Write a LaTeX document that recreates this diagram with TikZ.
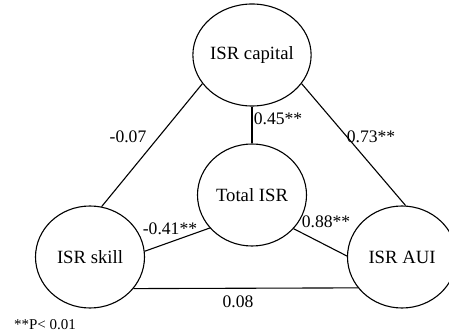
\documentclass[tikz,border=0pt]{standalone}
\usepackage{fontspec}
\setmainfont{Liberation Serif}
\usetikzlibrary{shapes.geometric}
\begin{document}
\begin{tikzpicture}[x=1pt,y=-1pt,
  var/.style={draw,ellipse,line width=1.1pt,minimum width=109pt,minimum height=102pt,inner sep=0pt,font=\fontsize{18.7}{22}\selectfont},
  link/.style={line width=1.1pt},
  coef/.style={inner sep=0pt,font=\fontsize{17.6}{21}\selectfont}]
\useasboundingbox (0,0) rectangle (449,336);
\node[var] (cap) at (252,55) {ISR capital};
\node[var] (tot) at (252,195) {Total ISR};
\node[var] (skl) at (90,257) {ISR skill};
\node[var] (aui) at (402,257) {ISR AUI};
\draw[link] (cap.270) -- (tot.90);
\draw[link] (cap.210) -- (skl.77.5);
\draw[link] (cap.330) -- (aui.86);
\draw[link] (tot.218) -- (skl.6);
\draw[link] (tot.321.7) -- (aui.179);
\draw[link] (skl.324.4) -- (aui.215.6);
\node[coef] (l1) at (128,137) {-0.07};
\node[coef] (l2) at (278,119) {0.45**};
\node[coef] (l3) at (371,137) {0.73**};
\node[coef] (l4) at (170,229) {-0.41**};
\node[coef] (l5) at (326,222) {0.88**};
\node[coef] (l6) at (238,302) {0.08};
\node[inner sep=0pt,font=\fontsize{15}{18}\selectfont] (note) at (45,325) {**P< 0.01};
\end{tikzpicture}
\end{document}
